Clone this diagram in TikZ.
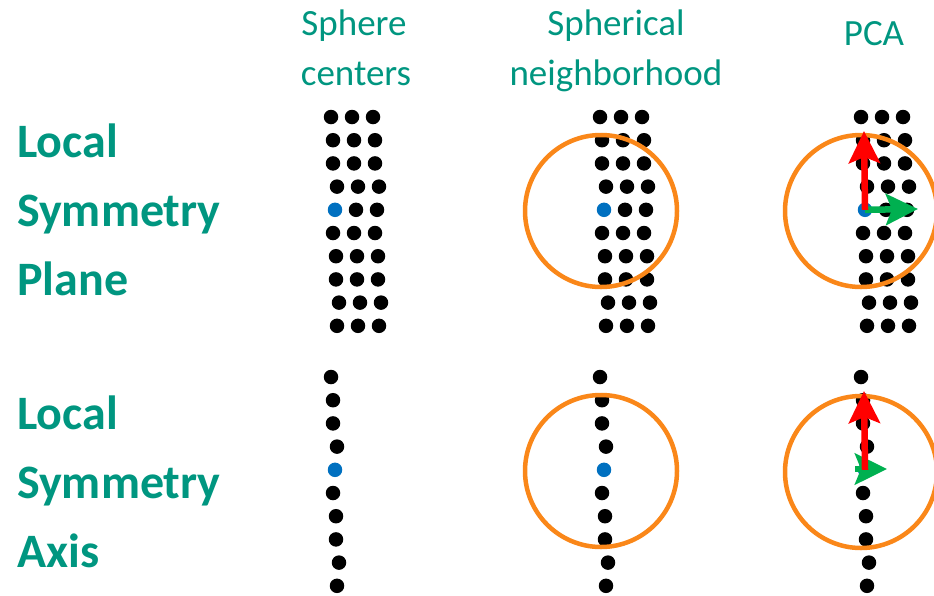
\documentclass[tikz,border=0pt]{standalone}
\usepackage{fontspec}
\setmainfont{Carlito}
\usetikzlibrary{arrows.meta}

\definecolor{headteal}{RGB}{0,150,128}
\definecolor{ringorange}{RGB}{250,135,25}
\definecolor{centerblue}{RGB}{0,112,192}
\definecolor{pcared}{RGB}{255,0,0}
\definecolor{pcagreen}{RGB}{0,176,80}

\begin{document}
\begin{tikzpicture}[x=1pt, y=-1pt,
    dot/.style={circle, fill=black, inner sep=0pt, minimum size=14.5pt},
    ring/.style={circle, draw=ringorange, line width=4.5pt, inner sep=0pt, minimum size=152pt},
    header/.style={text=headteal, font=\fontsize{37}{44}\selectfont, inner sep=0pt, anchor=base},
    rowlabel/.style={text=headteal, font=\bfseries\fontsize{48}{58}\selectfont, inner sep=0pt, anchor=base west},
    pcaarrow/.style={line width=6.5pt, -{Stealth[length=32pt, width=31pt, inset=6pt]}}]
    \useasboundingbox (0,0) rectangle (934,595);

    % Column headers
    \node[header] (sphereA) at (354,35) {Sphere};
    \node[header] (sphereB) at (356,85) {centers};
    \node[header] (neighA) at (616,35) {Spherical};
    \node[header] (neighB) at (616,85) {neighborhood};
    \node[header] (pca) at (874,45) {PCA};

    % Row labels
    \node[rowlabel] (planeA) at (17,157) {Local};
    \node[rowlabel] (planeB) at (17,226) {Symmetry};
    \node[rowlabel] (planeC) at (17,295) {Plane};
    \node[rowlabel] (axisA) at (17,429) {Local};
    \node[rowlabel] (axisB) at (17,498) {Symmetry};
    \node[rowlabel] (axisC) at (17,567) {Axis};

    % Sphere centers - plane (three columns) and axis (one column)
    \foreach \p/\sx in {a/0, b/269, c/530}{
        \foreach \r/\dx in {0/331, 1/333, 2/333, 3/337, 4/335, 5/333, 6/336, 7/336, 8/339, 9/337}{
            \ifnum\r=4 \def\dotfill{centerblue}\else\def\dotfill{black}\fi
            \node[dot, fill=\dotfill] (\p0-\r) at (\sx+\dx, 117+23.2*\r) {};
            \node[dot] (\p1-\r) at (\sx+\dx+21, 117+23.2*\r) {};
            \node[dot] (\p2-\r) at (\sx+\dx+42, 117+23.2*\r) {};
            \node[dot, fill=\dotfill] (l\p-\r) at (\sx+\dx, 377+23.2*\r) {};
        }
    }

    % Spherical neighborhoods
    \node[ring] (ringb) at (601,211) {};
    \node[ring] (ringc) at (861,211) {};
    \node[ring] (ringlb) at (601,471) {};
    \node[ring] (ringlc) at (861,472) {};

    % PCA directions
    \coordinate (redtip) at (864,131);
    \coordinate (greentip) at (918,209);
    \coordinate (redtipl) at (864,391);
    \coordinate (greenback) at (855,469);
    \coordinate (greentipl) at (887,469);

    \draw[pcaarrow, draw=pcagreen] (c0-4.center) -- (greentip);
    \draw[pcaarrow, draw=pcared] (c0-4.center) -- (redtip);
    \draw[pcaarrow, draw=pcagreen] (greenback) -- (greentipl);
    \draw[pcaarrow, draw=pcared] (lc-4.center) -- (redtipl);
\end{tikzpicture}
\end{document}
